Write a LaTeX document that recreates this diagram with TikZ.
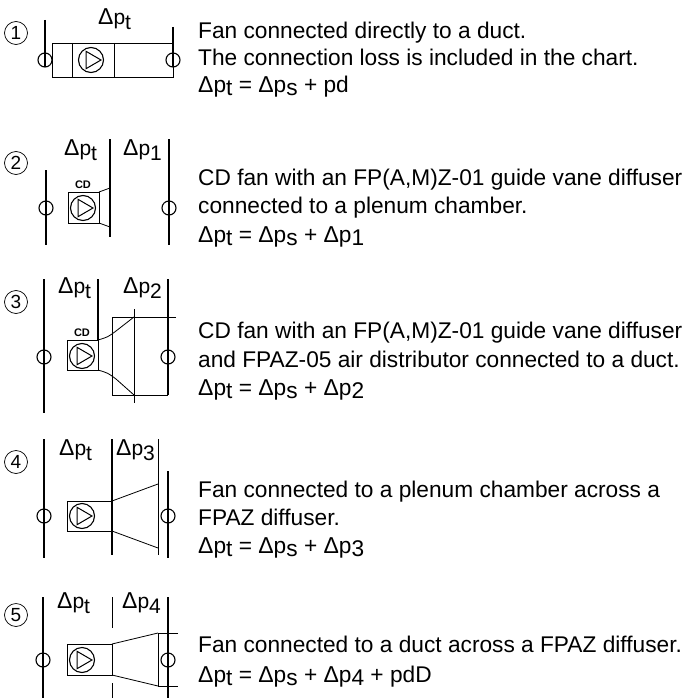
\documentclass[tikz,border=0pt]{standalone}
\usepackage{fontspec}
\setmainfont{Liberation Sans}
\newcommand\dlt{{\fontsize{23}{23}\selectfont Δ}}
\newcommand\lo[1]{\raisebox{-3pt}{#1}}
\newcommand\lbllo[1]{\raisebox{-5pt}{#1}}
\tikzset{
  duct/.style={line width=1.3pt},
  thin/.style={line width=0.8pt},
  tap/.style={circle, draw, line width=1.1pt, minimum size=14pt, inner sep=0pt},
  wheel/.style={circle, draw, line width=1.1pt, minimum size=25pt, inner sep=0pt},
  num/.style={circle, draw, line width=0.7pt, minimum size=23pt, inner sep=0pt, font=\fontsize{19}{19}\selectfont},
  txt/.style={anchor=base west, inner sep=0pt, font=\fontsize{22.7}{27}\selectfont},
  lbl/.style={anchor=base west, inner sep=0pt, font=\fontsize{21}{21}\selectfont},
  cd/.style={inner sep=0pt, font=\fontsize{11}{11}\selectfont\bfseries},
}
\newcommand\blade[1]{\draw[line width=1pt] (#1.center) +(10,0) -- +(-5,8.7) -- +(-5,-8.7) -- cycle;}
\begin{document}
\begin{tikzpicture}[x=1pt,y=-1pt]
  \useasboundingbox (0,0) rectangle (686,698);
  % case 1
  \node[num] (n1) at (16,33) {1};
  \draw[duct] (45,20) -- (45,67);
  \draw[duct] (173,27) -- (173,67);
  \node[tap] (t1a) at (45,60) {};
  \node[tap] (t1b) at (173,60) {};
  \draw[thin] (52,43) rectangle (173,77);
  \draw[thin] (72,43) -- (72,77);
  \draw[thin] (114,43) -- (114,77);
  \node[wheel] (w1) at (91,60) {};
  \blade{w1}
  \node[lbl] (l1) at (98,25) {\dlt p\lbllo{t}};
  \node[txt] (d1a) at (198,39) {Fan connected directly to a duct.};
  \node[txt] (d1b) at (198,66) {The connection loss is included in the chart.};
  \node[txt] (d1c) at (198,93) {\dlt p\lo{t} = \dlt p\lo{s} + pd};
  % case 2
  \node[num] (n2) at (16,163) {2};
  \draw[duct] (46,170) -- (46,245);
  \draw[duct] (110,139) -- (110,237);
  \draw[duct] (169,139) -- (169,245);
  \node[tap] (t2a) at (46,208) {};
  \node[tap] (t2b) at (169,208) {};
  \draw[thin] (68,192) rectangle (99,223);
  \draw[thin] (99,192) -- (110,188);
  \draw[thin] (99,223) -- (110,227);
  \node[wheel] (w2) at (83,208) {};
  \blade{w2}
  \node[cd] (c2) at (83,185) {CD};
  \node[lbl] (l2a) at (64,155) {\dlt p\lbllo{t}};
  \node[lbl] (l2b) at (123,155) {\dlt p\lbllo{1}};
  \node[txt] (d2a) at (198,185) {CD fan with an FP(A,M)Z-01 guide vane diffuser};
  \node[txt] (d2b) at (198,213) {connected to a plenum chamber.};
  \node[txt] (d2c) at (198,242) {\dlt p\lo{t} = \dlt p\lo{s} + \dlt p\lo{1}};
  % case 3
  \node[num] (n3) at (16,302) {3};
  \draw[duct] (44,279) -- (44,413);
  \draw[duct] (98,279) -- (98,340);
  \draw[duct] (168,279) -- (168,395);
  \node[tap] (t3a) at (44,357) {};
  \node[tap] (t3b) at (168,357) {};
  \draw[thin] (67,340) rectangle (98,370);
  \node[wheel] (w3) at (82,356) {};
  \blade{w3}
  \node[cd] (c3) at (82,333) {CD};
  \draw[thin] (98,340) .. controls (108,337) .. (116,331) -- (134,317);
  \draw[thin] (98,370) .. controls (108,373) .. (116,379) -- (134,395);
  \draw[thin] (176,317) -- (112,317) -- (112,395) -- (168,395);
  \draw[thin] (134,309) -- (134,403);
  \node[lbl] (l3a) at (58,293) {\dlt p\lbllo{t}};
  \node[lbl] (l3b) at (123,293) {\dlt p\lbllo{2}};
  \node[txt] (d3a) at (198,338) {CD fan with an FP(A,M)Z-01 guide vane diffuser};
  \node[txt] (d3b) at (198,367) {and FPAZ-05 air distributor connected to a duct.};
  \node[txt] (d3c) at (198,395) {\dlt p\lo{t} = \dlt p\lo{s} + \dlt p\lo{2}};
  % case 4
  \node[num] (n4) at (16,462) {4};
  \draw[duct] (44,439) -- (44,558);
  \draw[duct] (112,439) -- (112,555);
  \draw[thin] (158,439) -- (158,555);
  \draw[duct] (168,471) -- (168,558);
  \node[tap] (t4a) at (44,516) {};
  \node[tap] (t4b) at (168,516) {};
  \draw[thin] (67,501) rectangle (112,531);
  \draw[thin] (112,501) -- (158,484);
  \draw[thin] (112,531) -- (158,548);
  \node[wheel] (w4) at (82,516) {};
  \blade{w4}
  \node[lbl] (l4a) at (59,455) {\dlt p\lbllo{t}};
  \node[lbl] (l4b) at (116,455) {\dlt p\lbllo{3}};
  \node[txt] (d4a) at (198,497) {Fan connected to a plenum chamber across a};
  \node[txt] (d4b) at (198,525) {FPAZ diffuser.};
  \node[txt] (d4c) at (198,553) {\dlt p\lo{t} = \dlt p\lo{s} + \dlt p\lo{3}};
  % case 5
  \node[num] (n5) at (16,615) {5};
  \draw[duct] (43,597) -- (43,698);
  \draw[thin] (112,597) -- (112,628);
  \draw[thin] (112,683) -- (112,698);
  \draw[duct] (168,597) -- (168,698);
  \node[tap] (t5a) at (43,660) {};
  \node[tap] (t5b) at (168,660) {};
  \draw[thin] (67,644) rectangle (112,675);
  \draw[thin] (112,644) -- (158,633);
  \draw[thin] (112,675) -- (158,686);
  \draw[thin] (178,633) -- (158,633) -- (158,686) -- (178,686);
  \node[wheel] (w5) at (82,660) {};
  \blade{w5}
  \node[lbl] (l5a) at (57,608) {\dlt p\lbllo{t}};
  \node[lbl] (l5b) at (122,608) {\dlt p\lbllo{4}};
  \node[txt] (d5a) at (198,652) {Fan connected to a duct across a FPAZ diffuser.};
  \node[txt] (d5b) at (198,682) {\dlt p\lo{t} = \dlt p\lo{s} + \dlt p\lo{4} + pdD};
\end{tikzpicture}
\end{document}
